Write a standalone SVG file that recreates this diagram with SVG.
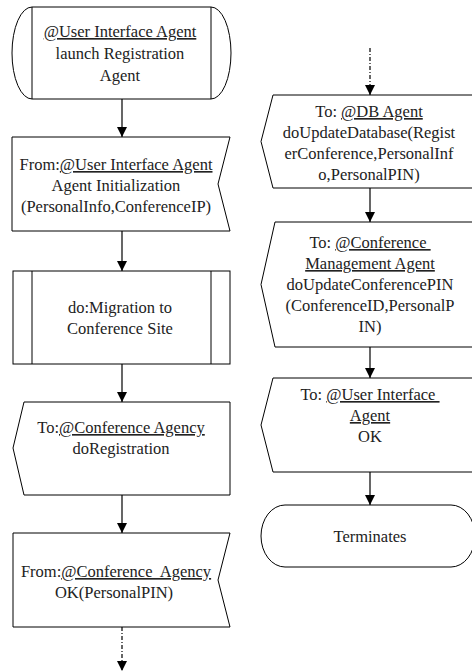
<svg xmlns="http://www.w3.org/2000/svg" width="472" height="672" viewBox="0 0 472 672">
<defs>
<marker id="arr" markerUnits="userSpaceOnUse" markerWidth="10" markerHeight="12" refX="10" refY="5" orient="auto">
<path d="M0,0 L10,5 L0,10 Z" fill="#000"/>
</marker>
<style>
.s{fill:#fff;stroke:#000;stroke-width:1}
.l{fill:none;stroke:#000;stroke-width:1}
.t{font-family:'Liberation Serif','Times New Roman',serif;font-size:16.5px;fill:#222;text-anchor:middle}
.u{text-decoration:underline}
.c{fill:none;stroke:#000;stroke-width:1.2;marker-end:url(#arr)}
.d{stroke-dasharray:4,2,1,2}
</style>
</defs>
<rect width="472" height="672" fill="#fff"/>
<g id="connectors">
<line class="c" x1="122" y1="99" x2="122" y2="137"/>
<line class="c" x1="122" y1="231" x2="122" y2="271"/>
<line class="c" x1="122" y1="364" x2="122" y2="402"/>
<line class="c" x1="122" y1="495" x2="122" y2="533"/>
<line class="c d" x1="122" y1="627" x2="122" y2="671"/>
<line class="c d" x1="370" y1="48" x2="370" y2="95"/>
<line class="c" x1="370" y1="188" x2="370" y2="222"/>
<line class="c" x1="370" y1="347" x2="370" y2="378"/>
<line class="c" x1="370" y1="472" x2="370" y2="505"/>
</g>
<g id="n1">
<path class="s" d="M32,7 L211,7 A20,46 0 0 1 211,99 L32,99 A20,46 0 0 1 32,7 Z"/>
<line class="l" x1="32" y1="7" x2="32" y2="99"/>
<line class="l" x1="211" y1="7" x2="211" y2="99"/>
<text class="t" x="120" y="37"><tspan class="u">@User Interface Agent</tspan></text>
<text class="t" x="120" y="59">launch Registration</text>
<text class="t" x="120" y="81">Agent</text>
</g>
<g id="n2">
<path class="s" d="M12,137 L230,137 L218,184 L230,231 L12,231 Z"/>
<text class="t" x="116" y="170">From:<tspan class="u">@User Interface Agent</tspan></text>
<text class="t" x="116" y="191">Agent Initialization</text>
<text class="t" x="116" y="212">(PersonalInfo,ConferenceIP)</text>
</g>
<g id="n3">
<rect class="s" x="13" y="271" width="217" height="93"/>
<line class="l" x1="32" y1="271" x2="32" y2="364"/>
<line class="l" x1="211" y1="271" x2="211" y2="364"/>
<text class="t" x="120" y="313">do:Migration to</text>
<text class="t" x="120" y="334">Conference Site</text>
</g>
<g id="n4">
<path class="s" d="M24,402 L230,402 L230,495 L24,495 L13,448 Z"/>
<text class="t" x="121" y="433">To:<tspan class="u">@Conference Agency</tspan></text>
<text class="t" x="121" y="454">doRegistration</text>
</g>
<g id="n5">
<path class="s" d="M13,533 L230,533 L218,580 L230,627 L13,627 Z"/>
<text class="t" xml:space="preserve" x="116" y="577">From:<tspan class="u">@Conference  Agency</tspan></text>
<text class="t" x="114" y="598">OK(PersonalPIN)</text>
</g>
<g id="n6">
<path class="s" d="M273,95 L480,95 L480,188 L273,188 L261,141.5 Z"/>
<text class="t" x="369" y="117">To: <tspan class="u">@DB Agent</tspan></text>
<text class="t" x="369" y="138">doUpdateDatabase(Regist</text>
<text class="t" x="369" y="159">erConference,PersonalInf</text>
<text class="t" x="369" y="180">o,PersonalPIN)</text>
</g>
<g id="n7">
<path class="s" d="M275,222 L480,222 L480,347 L275,347 L261,284.5 Z"/>
<text class="t" xml:space="preserve" x="370" y="248">To: <tspan class="u">@Conference </tspan></text>
<text class="t" x="370" y="269"><tspan class="u">Management Agent</tspan></text>
<text class="t" x="370" y="290">doUpdateConferencePIN</text>
<text class="t" x="370" y="311">(ConferenceID,PersonalP</text>
<text class="t" x="370" y="332">IN)</text>
</g>
<g id="n8">
<path class="s" d="M273,378 L480,378 L480,472 L273,472 L261,425 Z"/>
<text class="t" xml:space="preserve" x="370" y="400">To: <tspan class="u">@User Interface </tspan></text>
<text class="t" x="370" y="421"><tspan class="u">Agent</tspan></text>
<text class="t" x="370" y="442">OK</text>
</g>
<g id="n9">
<rect class="s" x="261" y="505" width="214" height="62" rx="24" ry="31"/>
<text class="t" x="370" y="542">Terminates</text>
</g>
</svg>
